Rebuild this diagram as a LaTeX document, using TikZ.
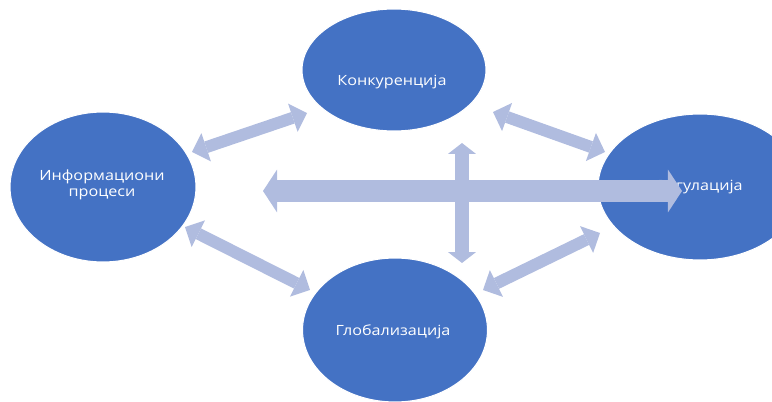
\documentclass[tikz,border=0pt]{standalone}
\usepackage{fontspec}
\setmainfont{Open Sans}
\usepackage{xcolor}
\usetikzlibrary{arrows.meta,shapes.geometric}
\definecolor{plava}{HTML}{4472C4}
\definecolor{svetla}{HTML}{B0BCDF}
\newcommand{\siroko}[1]{\scalebox{1.15}[1]{\begin{tabular}{@{}c@{}}#1\end{tabular}}}

\begin{document}
\begin{tikzpicture}[x=0.02cm,y=-0.02cm,
    krug/.style={ellipse,fill=plava,draw=white,line width=0.6pt,inner sep=0pt},
    natpis/.style={inner sep=0pt,text=white,font=\fontsize{8}{9}\selectfont},
    strelica/.style={draw=svetla,line width=6.8pt,
                 {Triangle[width=17pt,length=8.5pt,line width=0pt]}-{Triangle[width=17pt,length=8.5pt,line width=0pt]}},
    velika/.style={draw=svetla,line width=12.5pt,
                 {Triangle[width=24.4pt,length=8pt,line width=0pt]}-{Triangle[width=24.4pt,length=8pt,line width=0pt]}},
    uspravna/.style={draw=svetla,line width=8.5pt,
                 {Triangle[width=15.9pt,length=6.2pt,line width=0pt]}-{Triangle[width=15.9pt,length=6.2pt,line width=0pt]}}]
  \useasboundingbox (0,0) rectangle (772,402);
  \clip (0,0) rectangle (772,402);
  \node[krug,minimum width=3.68cm,minimum height=2.44cm] (kon) at (394,70) {};
  \node[krug,minimum width=3.72cm,minimum height=3.0cm] (inf) at (103,187) {};
  \node[krug,minimum width=4.08cm,minimum height=2.92cm] (reg) at (700,187) {};
  \node[krug,minimum width=3.7cm,minimum height=2.88cm] (glo) at (395,330) {};
  \node[natpis] (konT) at (392,82) {\siroko{Конкуренција}};
  \node[natpis] (infT) at (102,185) {\siroko{Информациони\\процеси}};
  \node[natpis] (regT) at (700,187) {\siroko{Регулација}};
  \node[natpis] (gloT) at (393,332) {\siroko{Глобализација}};
  % krajevi strelica
  \coordinate (ik) at (192,152);
  \coordinate (ki) at (307,113);
  \coordinate (kr) at (493,112);
  \coordinate (rk) at (605,152);
  \coordinate (ig) at (185,227);
  \coordinate (gi) at (310,290);
  \coordinate (gr) at (483,290);
  \coordinate (rg) at (600,233);
  \coordinate (levo) at (263,191);
  \coordinate (desno) at (682,191);
  \coordinate (gore) at (462,143);
  \coordinate (dole) at (462,263);
  \draw[strelica] (ik) -- (ki);
  \draw[strelica] (kr) -- (rk);
  \draw[strelica] (ig) -- (gi);
  \draw[strelica] (gr) -- (rg);
  \draw[uspravna] (gore) -- (dole);
  \draw[velika] (levo) -- (desno);
\end{tikzpicture}
\end{document}
